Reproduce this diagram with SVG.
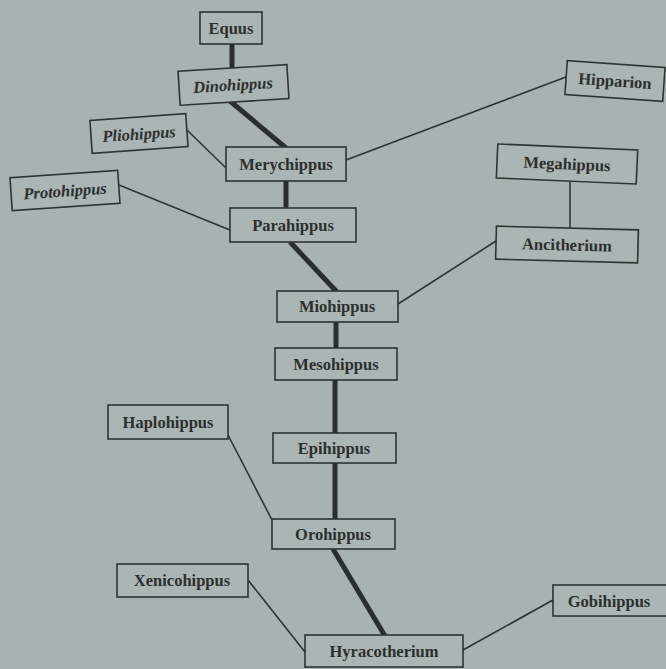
<svg xmlns="http://www.w3.org/2000/svg" width="666" height="669" viewBox="0 0 666 669">
<style>
.bg{fill:#a8b2b0}
.box{fill:#abb5b3;stroke:#2f3433;stroke-width:1.6}
.lbl{font-family:"Liberation Serif","DejaVu Serif",serif;font-weight:bold;font-size:16.5px;fill:#2b302f;text-anchor:middle;dominant-baseline:central}
.it{font-style:italic}
.thick{stroke:#2a2e2e;stroke-width:5;fill:none;stroke-linecap:butt}
.thin{stroke:#2f3433;stroke-width:1.6;fill:none}
</style>
<rect class="bg" x="0" y="0" width="666" height="669"/>
<g id="connectors">
<line class="thick" x1="232" y1="44" x2="232" y2="69"/>
<line class="thick" x1="230" y1="101" x2="286" y2="148"/>
<line class="thick" x1="286" y1="181" x2="286" y2="209"/>
<line class="thick" x1="290" y1="242" x2="337" y2="292"/>
<line class="thick" x1="336" y1="322" x2="336" y2="349"/>
<line class="thick" x1="335" y1="380" x2="335" y2="434"/>
<line class="thick" x1="335" y1="463" x2="335" y2="520"/>
<line class="thick" x1="333" y1="549" x2="385" y2="636"/>
<line class="thin" x1="187" y1="130" x2="226" y2="168"/>
<line class="thin" x1="119" y1="185" x2="230" y2="230"/>
<line class="thin" x1="346" y1="160" x2="566" y2="77"/>
<line class="thin" x1="570" y1="182" x2="570" y2="229"/>
<line class="thin" x1="496" y1="241" x2="398" y2="304"/>
<line class="thin" x1="228" y1="435" x2="272" y2="520"/>
<line class="thin" x1="248" y1="580" x2="305" y2="652"/>
<line class="thin" x1="463" y1="650" x2="553" y2="600"/>
</g>
<g id="equus"><rect class="box" x="200" y="12" width="62" height="32"/><text class="lbl" x="231" y="28">Equus</text></g>
<g id="dinohippus" transform="rotate(-3.5 233 85)"><rect class="box" x="179" y="68" width="109" height="34"/><text class="lbl it" x="233" y="85">Dinohippus</text></g>
<g id="pliohippus" transform="rotate(-4 139 134)"><rect class="box" x="91" y="117" width="96" height="33"/><text class="lbl it" x="139" y="134">Pliohippus</text></g>
<g id="merychippus"><rect class="box" x="226" y="147" width="120" height="34"/><text class="lbl" x="286" y="164">Merychippus</text></g>
<g id="protohippus" transform="rotate(-4 65 191)"><rect class="box" x="11" y="174" width="108" height="33"/><text class="lbl it" x="65" y="191">Protohippus</text></g>
<g id="parahippus"><rect class="box" x="230" y="208" width="126" height="34"/><text class="lbl" x="293" y="225">Parahippus</text></g>
<g id="hipparion" transform="rotate(4 615 81)"><rect class="box" x="566" y="64" width="98" height="34"/><text class="lbl" x="615" y="81">Hipparion</text></g>
<g id="megahippus" transform="rotate(2.5 567 164)"><rect class="box" x="497" y="147" width="140" height="34"/><text class="lbl" x="567" y="164">Megahippus</text></g>
<g id="ancitherium" transform="rotate(1.5 567 245)"><rect class="box" x="496" y="228" width="142" height="33"/><text class="lbl" x="567" y="245">Ancitherium</text></g>
<g id="miohippus"><rect class="box" x="277" y="291" width="121" height="31"/><text class="lbl" x="337" y="306">Miohippus</text></g>
<g id="mesohippus"><rect class="box" x="275" y="348" width="122" height="32"/><text class="lbl" x="336" y="364">Mesohippus</text></g>
<g id="haplohippus"><rect class="box" x="108" y="405" width="120" height="34"/><text class="lbl" x="168" y="422">Haplohippus</text></g>
<g id="epihippus"><rect class="box" x="273" y="433" width="123" height="30"/><text class="lbl" x="334" y="448">Epihippus</text></g>
<g id="orohippus"><rect class="box" x="272" y="519" width="123" height="30"/><text class="lbl" x="333" y="534">Orohippus</text></g>
<g id="xenicohippus"><rect class="box" x="117" y="564" width="131" height="33"/><text class="lbl" x="182" y="580">Xenicohippus</text></g>
<g id="hyracotherium"><rect class="box" x="305" y="635" width="158" height="32"/><text class="lbl" x="384" y="651">Hyracotherium</text></g>
<g id="gobihippus"><rect class="box" x="553" y="585" width="114" height="31"/><text class="lbl" x="609" y="601">Gobihippus</text></g>
</svg>
